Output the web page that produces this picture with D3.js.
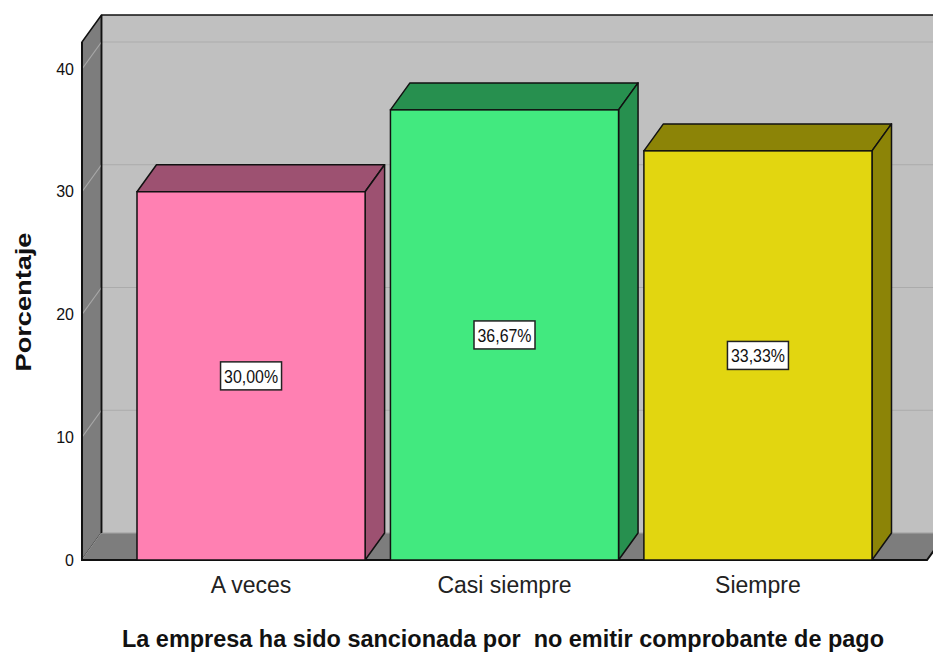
<!DOCTYPE html>
<html>
<head>
<meta charset="utf-8">
<script src="https://cdn.jsdelivr.net/npm/d3@7"></script>
<style>
  body { margin: 0; background: #ffffff; }
  text { font-family: "Liberation Sans", Arial, sans-serif; }
</style>
</head>
<body>
<div id="chart"></div>
<script>
// data
var categories = ["A veces", "Casi siempre", "Siempre"];
var percents = [30.00, 36.67, 33.33];
var labels = ["30,00%", "36,67%", "33,33%"];
var yTicks = [0, 10, 20, 30, 40];
var frontColors = ["#ff80b2", "#42e97f", "#e2d610"];
var sideColors = ["#9d5171", "#27904f", "#8c8407"];

var width = 933, height = 652;
var depthX = 19.5, depthY = 27;

var svg = d3.select("#chart").append("svg")
    .attr("width", width)
    .attr("height", height)

var x = d3.scaleBand()
    .domain(categories)
    .range([82, 927])
    .paddingInner(0.1)
    .paddingOuter(0.217)

var y = d3.scaleLinear()
    .domain([0, 42.2])
    .range([560, 42])

var x0 = x.range()[0], x1 = x.range()[1];
var yTop = y(42.2), yBase = y(0);

// back wall
svg.append("polygon")
    .attr("points", [[x0 + depthX, yTop - depthY], [x1 + depthX + 20, yTop - depthY],
        [x1 + depthX + 20, yBase - depthY], [x0 + depthX, yBase - depthY]].join(" "))
    .attr("fill", "#c0c0c0")

svg.append("line")
    .attr("x1", x0 + depthX).attr("x2", x1 + depthX + 20)
    .attr("y1", yTop - depthY).attr("y2", yTop - depthY)
    .attr("stroke", "#111").attr("stroke-width", 1.5)

// back gridlines
svg.selectAll(".grid-back")
    .data(yTicks)
    .enter()
    .append("line")
    .attr("class", "grid-back")
    .attr("x1", x0 + depthX)
    .attr("x2", x1 + depthX + 20)
    .attr("y1", function (d) { return y(d) - depthY; })
    .attr("y2", function (d) { return y(d) - depthY; })
    .attr("stroke", "#ababab")
    .attr("stroke-width", 1.2)

// left wall
svg.append("polygon")
    .attr("points", [[x0, yTop], [x0 + depthX, yTop - depthY],
        [x0 + depthX, yBase - depthY], [x0, yBase]].join(" "))
    .attr("fill", "#7d7d7d")
    .attr("stroke", "#111")
    .attr("stroke-width", 1.5)
    .attr("stroke-linejoin", "round")

svg.selectAll(".grid-left")
    .data(yTicks)
    .enter()
    .append("line")
    .attr("class", "grid-left")
    .attr("x1", x0)
    .attr("x2", x0 + depthX)
    .attr("y1", function (d) { return y(d); })
    .attr("y2", function (d) { return y(d) - depthY; })
    .attr("stroke", "#a8a8a8")
    .attr("stroke-width", 1.2)

// floor
svg.append("polygon")
    .attr("points", [[x0, yBase], [x0 + depthX, yBase - depthY],
        [x1 + depthX, yBase - depthY], [x1, yBase]].join(" "))
    .attr("fill", "#7d7d7d")

svg.append("line")
    .attr("x1", x0 + depthX).attr("x2", x1 + depthX)
    .attr("y1", yBase - depthY).attr("y2", yBase - depthY)
    .attr("stroke", "#a8a8a8").attr("stroke-width", 1.2)

svg.append("polyline")
    .attr("points", [[x0, yTop], [x0, yBase], [x1, yBase], [x1 + depthX, yBase - depthY]].join(" "))
    .attr("fill", "none")
    .attr("stroke", "#111")
    .attr("stroke-width", 2)

svg.append("line")
    .attr("x1", x0 + depthX).attr("x2", x0 + depthX)
    .attr("y1", yTop - depthY).attr("y2", yBase - depthY)
    .attr("stroke", "#111").attr("stroke-width", 1.5)

// bars
var bars = svg.selectAll(".bar")
    .data(percents)
    .enter()
    .append("g")
    .attr("class", "bar")

bars.append("polygon")
    .attr("points", function (d, i) {
        var bx = x(categories[i]), bw = x.bandwidth(), by = y(d);
        return [[bx, by], [bx + depthX, by - depthY], [bx + bw + depthX, by - depthY], [bx + bw, by]].join(" ");
    })
    .attr("fill", function (d, i) { return sideColors[i]; })
    .attr("stroke", "#111")
    .attr("stroke-width", 1.5)
    .attr("stroke-linejoin", "round")

bars.append("polygon")
    .attr("points", function (d, i) {
        var bx = x(categories[i]), bw = x.bandwidth(), by = y(d);
        return [[bx + bw, by], [bx + bw + depthX, by - depthY], [bx + bw + depthX, yBase - depthY], [bx + bw, yBase]].join(" ");
    })
    .attr("fill", function (d, i) { return sideColors[i]; })
    .attr("stroke", "#111")
    .attr("stroke-width", 1.5)
    .attr("stroke-linejoin", "round")

bars.append("rect")
    .attr("x", function (d, i) { return x(categories[i]); })
    .attr("y", function (d) { return y(d); })
    .attr("width", x.bandwidth())
    .attr("height", function (d) { return yBase - y(d); })
    .attr("fill", function (d, i) { return frontColors[i]; })
    .attr("stroke", "#111")
    .attr("stroke-width", 1.5)

// value labels
bars.append("rect")
    .attr("x", function (d, i) { return x(categories[i]) + x.bandwidth() / 2 - 30.5; })
    .attr("y", function (d) { return (y(d) + yBase) / 2 - 14; })
    .attr("width", 61)
    .attr("height", 28)
    .attr("fill", "#ffffff")
    .attr("stroke", "#222")
    .attr("stroke-width", 1.5)

bars.append("text")
    .attr("x", function (d, i) { return x(categories[i]) + x.bandwidth() / 2; })
    .attr("y", function (d) { return (y(d) + yBase) / 2; })
    .attr("dy", "0.36em")
    .attr("text-anchor", "middle")
    .style("font-size", "19px")
    .attr("textLength", 54)
    .attr("lengthAdjust", "spacingAndGlyphs")
    .attr("fill", "#111")
    .text(function (d, i) { return labels[i]; })

// y axis
var yAxis = svg.append("g")
    .attr("transform", "translate(" + x0 + ",0)")
    .call(d3.axisLeft(y).tickValues(yTicks).tickSize(0).tickPadding(8))
yAxis.select(".domain").remove()
yAxis.selectAll("text")
    .style("font-size", "16px")
    .style("font-family", "'Liberation Sans', Arial, sans-serif")
    .attr("fill", "#111")

// x axis
var xAxis = svg.append("g")
    .attr("transform", "translate(0," + yBase + ")")
    .call(d3.axisBottom(x).tickSize(0).tickPadding(17))
xAxis.select(".domain").remove()
xAxis.selectAll("text")
    .style("font-size", "23px")
    .style("font-family", "'Liberation Sans', Arial, sans-serif")
    .attr("fill", "#222")

// axis titles
svg.append("text")
    .attr("x", 503)
    .attr("y", 647)
    .attr("text-anchor", "middle")
    .style("font-size", "23px")
    .style("font-weight", "bold")
    .style("white-space", "pre")
    .attr("textLength", 762)
    .attr("lengthAdjust", "spacingAndGlyphs")
    .attr("fill", "#111")
    .text("La empresa ha sido sancionada por  no emitir comprobante de pago")

svg.append("text")
    .attr("transform", "translate(31,302) rotate(-90)")
    .attr("text-anchor", "middle")
    .style("font-size", "22px")
    .style("font-weight", "bold")
    .attr("textLength", 139)
    .attr("lengthAdjust", "spacingAndGlyphs")
    .attr("fill", "#111")
    .text("Porcentaje")
</script>
</body>
</html>
